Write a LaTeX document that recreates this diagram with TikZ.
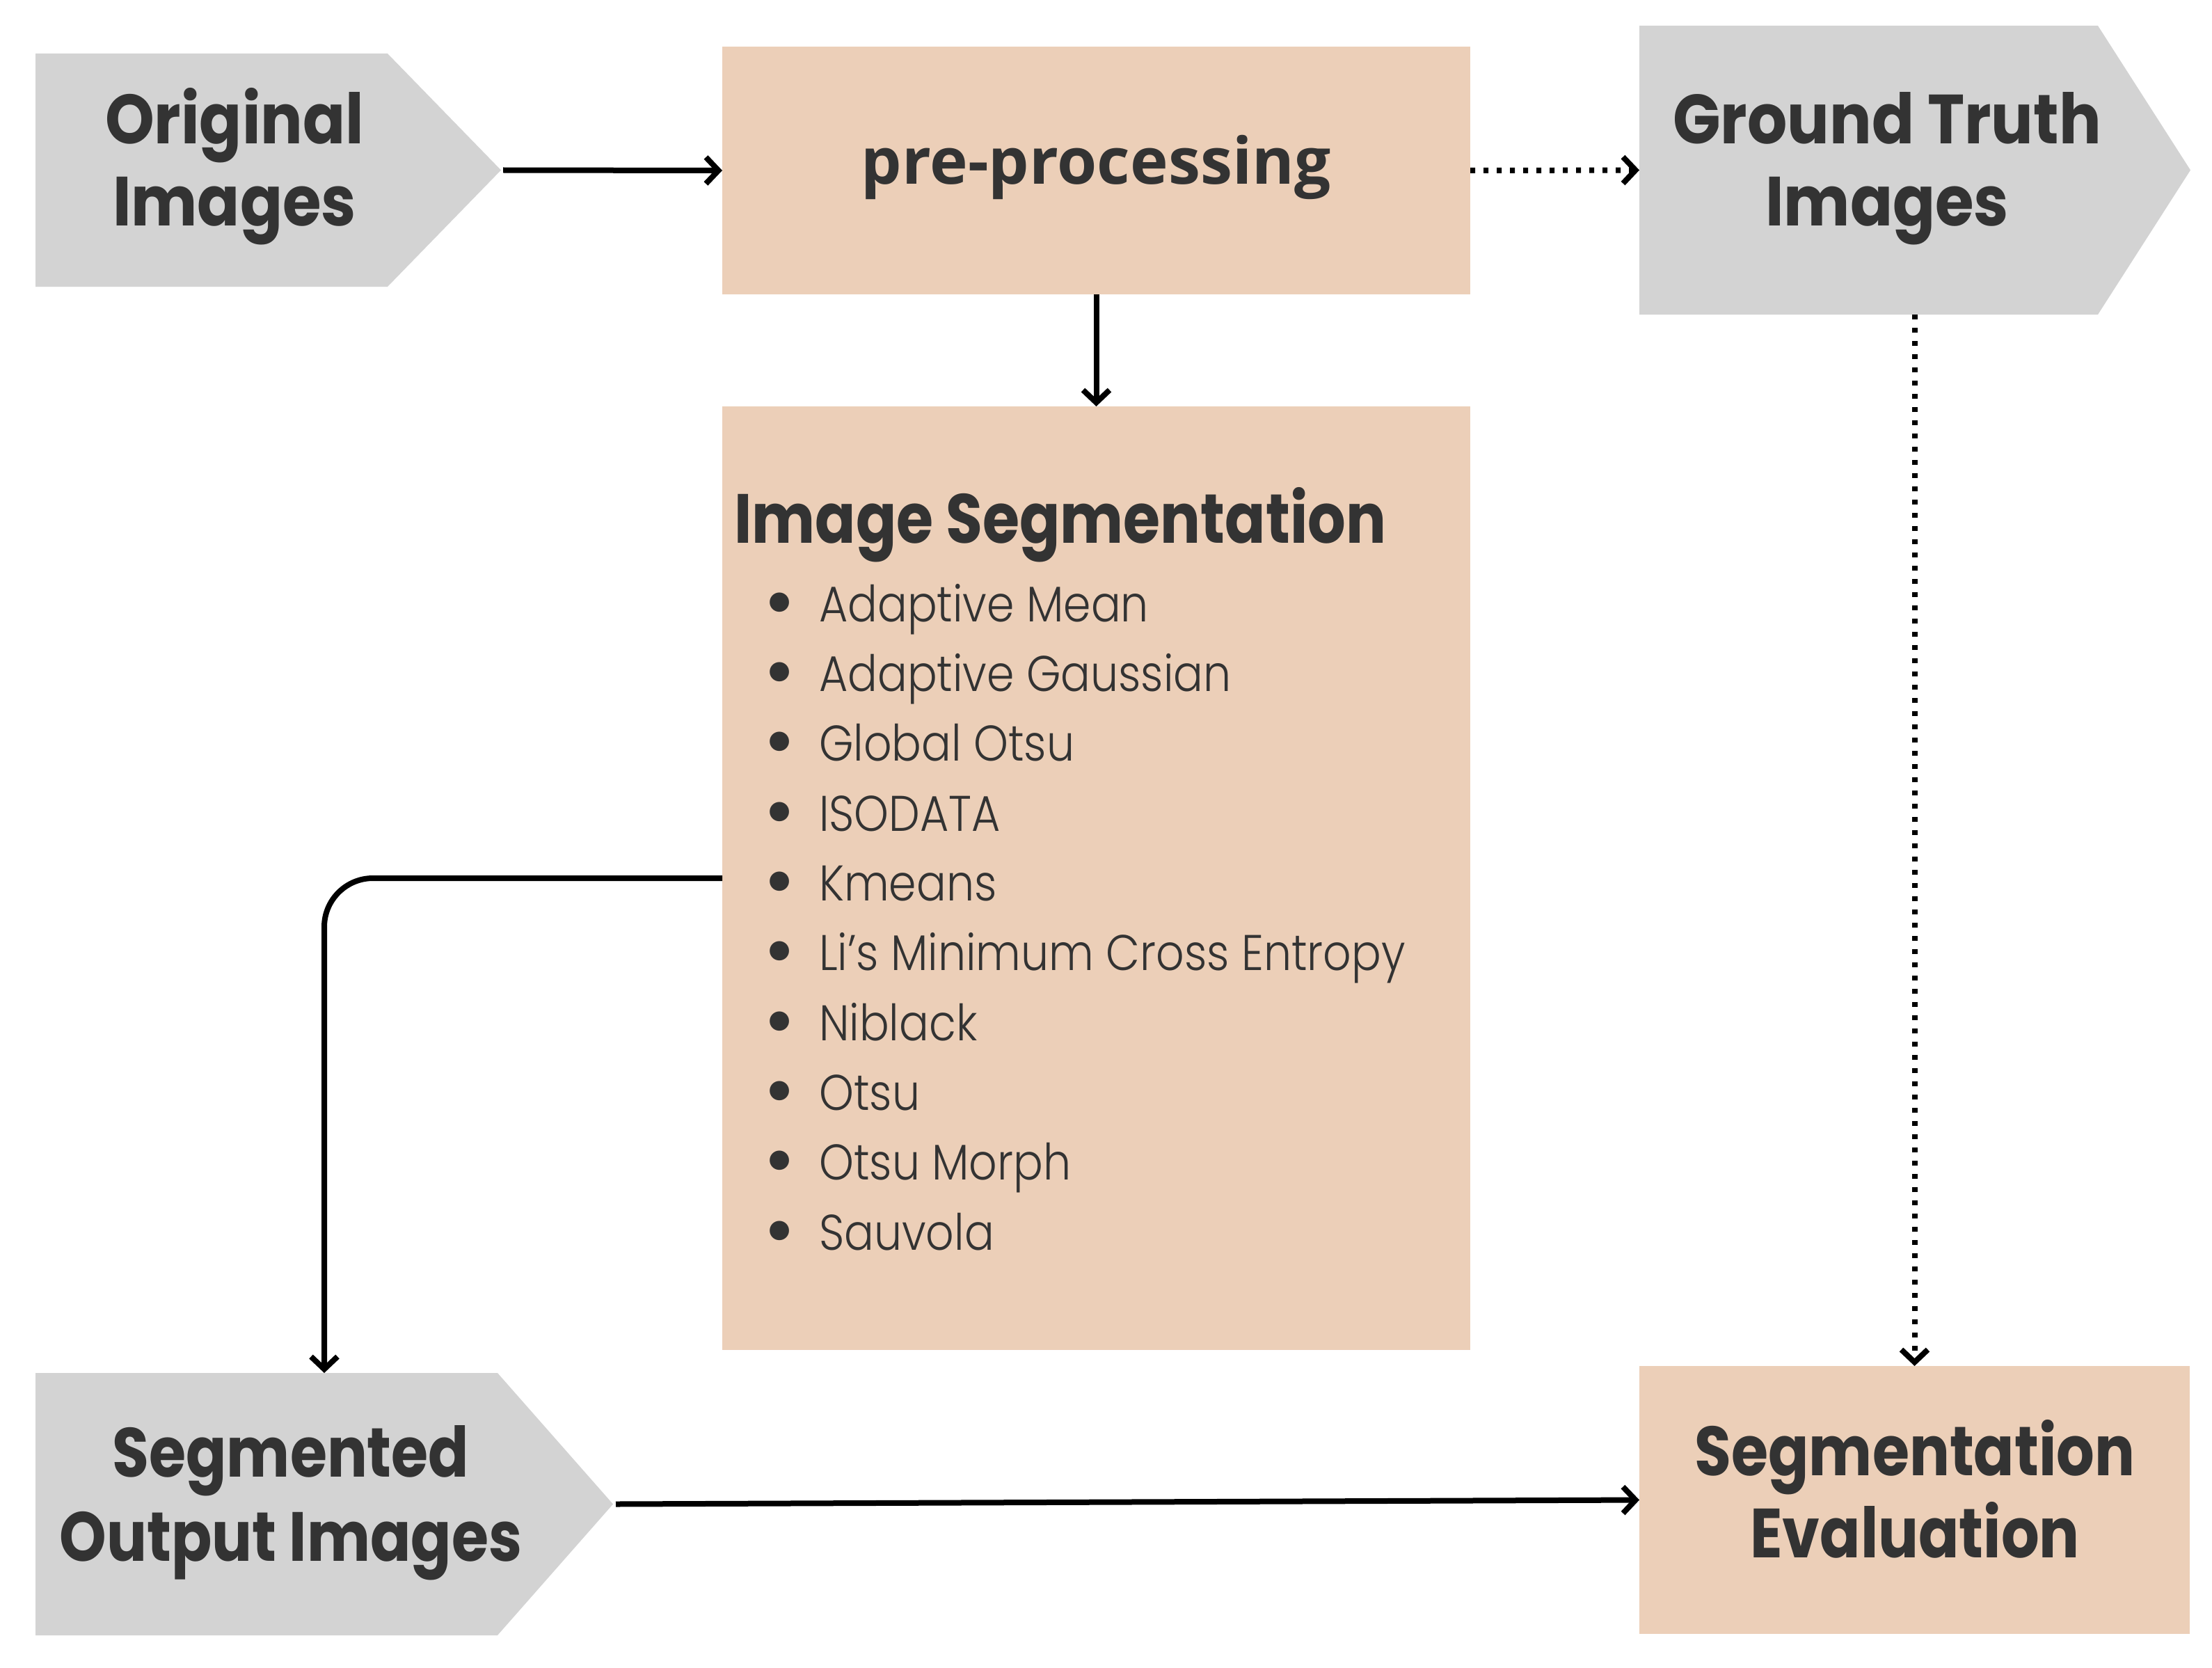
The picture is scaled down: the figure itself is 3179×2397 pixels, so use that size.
\documentclass[tikz,border=0pt]{standalone}
\usepackage{fontspec}
\usetikzlibrary{arrows.meta}
\setmainfont{Poppins}
\newfontfamily\headfont{Poppins}[FakeStretch=0.86]
\newfontfamily\headfontw{Poppins}[FakeStretch=0.9]
\newfontfamily\listfont{Poppins Light}[FakeStretch=0.88]
\newfontfamily\bulfont{Poppins}
\newfontfamily\prefont{Open Sans}
\definecolor{boxgray}{HTML}{D3D3D3}
\definecolor{peach}{HTML}{ECCFB8}
\definecolor{ink}{HTML}{333333}
\tikzset{
  conn/.style={line width=8pt, -{Straight Barb[length=18pt,width=38pt]}},
  dotconn/.style={conn, dash pattern=on 7pt off 12pt},
  peachbox/.style={fill=peach, draw=none, inner sep=0pt, outer sep=0pt},
  grayshape/.style={fill=boxgray},
  head/.style={text=ink, font=\headfont\bfseries\fontsize{100}{118}\selectfont, align=center, inner sep=0pt, anchor=base},
  headw/.style={head, font=\headfontw\bfseries\fontsize{100}{118}\selectfont},
  pretext/.style={text=ink, font=\prefont\bfseries\fontsize{92.5}{100}\selectfont, inner sep=0pt, anchor=base},
  listtxt/.style={text=ink, font=\listfont\fontsize{72}{100.3}\selectfont, align=left, inner sep=0pt, anchor=base west},
}
\newcommand{\blt}[1]{\makebox[0pt]{\bulfont\bfseries\fontsize{92}{100}\selectfont\raisebox{-3pt}{\textbullet}}\hspace{57pt}#1}
\begin{document}
\begin{tikzpicture}[x=1pt,y=-1pt]
\useasboundingbox (0,0) rectangle (3179,2397);
\fill[white] (0,0) rectangle (3179,2397);
% boxes
\node[peachbox, minimum width=1075pt, minimum height=356pt] (pre) at (1575.5,245) {};
\node[peachbox, minimum width=1075pt, minimum height=1356pt] (seg) at (1575.5,1262) {};
\node[peachbox, minimum width=791pt, minimum height=385pt] (eval) at (2751.5,2155.5) {};
% pentagon shapes
\fill[grayshape] (51,77) -- (557,77) -- (720,244.5) -- (557,412) -- (51,412) -- cycle;
\fill[grayshape] (2356,37) -- (3015,37) -- (3148,244.5) -- (3015,452) -- (2356,452) -- cycle;
\fill[grayshape] (51,1973) -- (715,1973) -- (881,2161.5) -- (715,2350) -- (51,2350) -- cycle;
\coordinate (origtip) at (723,244.5);
\coordinate (gtleft) at (2356,244.5);
\coordinate (gtbottom) at (2751.5,452);
\coordinate (sotop) at (466,1973);
\coordinate (sotip) at (885,2161.5);
% texts (anchor base = baseline of the last line)
\node[headw] (origtxt) at (337,325) {Original\\Images};
\node[headw] (gttxt) at (2712,325) {Ground Truth\\Images};
\node[head, font=\headfont\bfseries\fontsize{100}{121}\selectfont] (sotxt) at (418,2243) {Segmented\\Output Images};
\node[head] (evtxt) at (2752,2238) {Segmentation\\Evaluation};
\node[head, anchor=base west] (segtitle) at (1055,780) {Image Segmentation};
\node[pretext] (pretxt) at (1575,265) {pre-processing};
\node[listtxt] (list) at (1120,1796) {\blt{Adaptive Mean}\\
\blt{Adaptive Gaussian}\\
\blt{Global Otsu}\\
\blt{ISODATA}\\
\blt{Kmeans}\\
\blt{Li’s Minimum Cross Entropy}\\
\blt{Niblack}\\
\blt{Otsu}\\
\blt{Otsu Morph}\\
\blt{Sauvola}};
% connectors
\draw[conn] (origtip) -- (pre.west);
\draw[dotconn] (pre.east) -- (gtleft);
\draw[conn] (pre.south) -- (seg.north);
\draw[conn, rounded corners=70pt] (seg.west) -| (sotop);
\draw[dotconn] (gtbottom) -- (eval.north);
\draw[conn] (sotip) -- (eval.west);
\end{tikzpicture}
\end{document}
